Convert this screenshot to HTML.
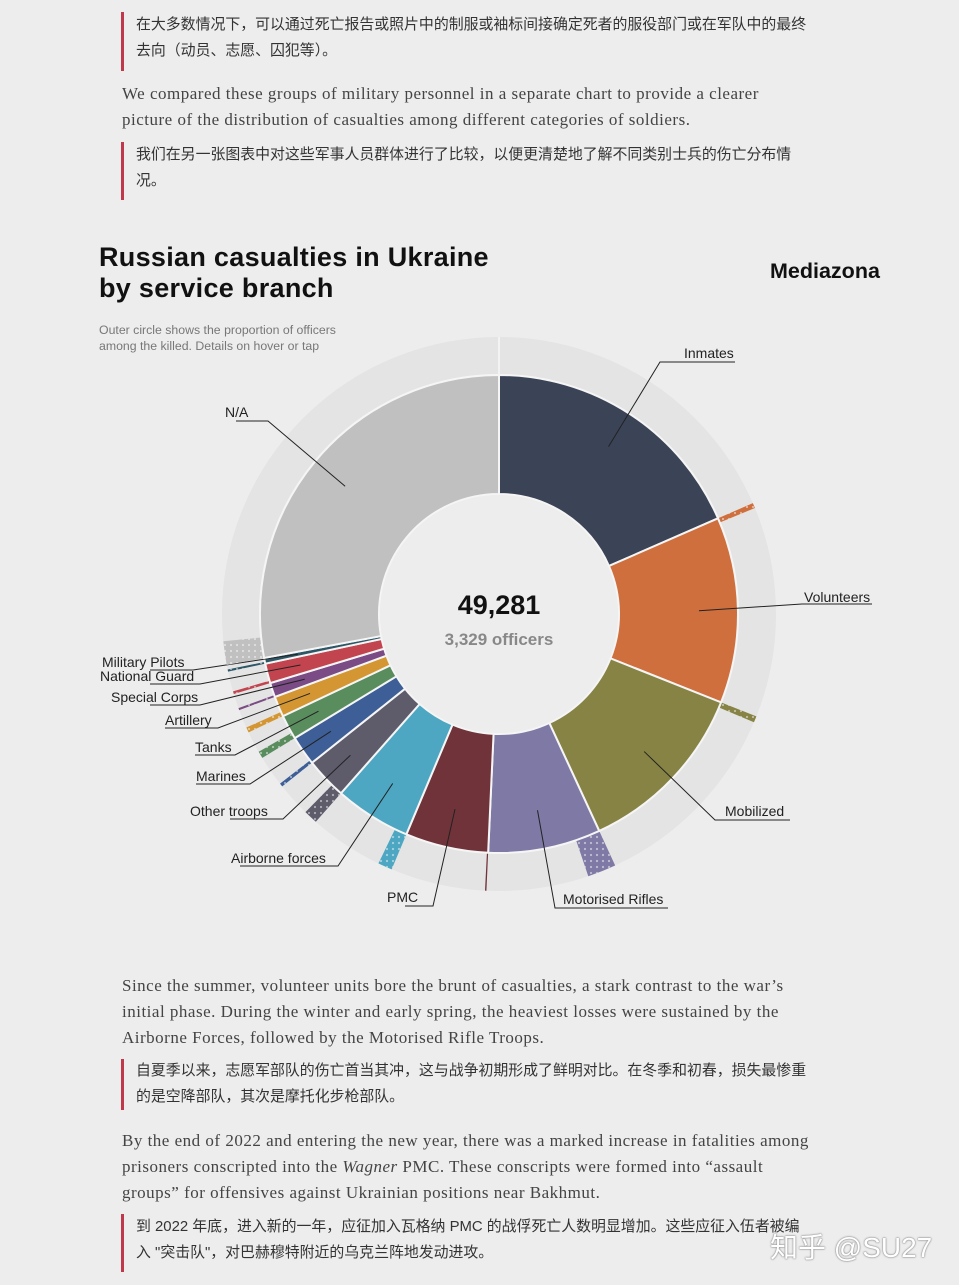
<!DOCTYPE html>
<html><head><meta charset="utf-8">
<style>
html,body{margin:0;padding:0;}
body{width:959px;height:1285px;background:#ededed;position:relative;overflow:hidden;font-family:"Liberation Serif","Noto Serif CJK SC",serif;}
.bq{position:absolute;left:121px;border-left:3px solid #c0394b;padding-left:12px;font-family:"Liberation Sans","Noto Sans CJK SC",sans-serif;font-size:14.9px;line-height:25.5px;color:#333;width:700px;white-space:nowrap;}
.p{position:absolute;left:122px;font-size:17px;line-height:26px;color:#444;width:720px;white-space:nowrap;letter-spacing:0.5px;}
.abs{position:absolute;}
</style></head>
<body>
<div class="bq" style="top:12px;height:58px;padding-top:1px">在大多数情况下，可以通过死亡报告或照片中的制服或袖标间接确定死者的服役部门或在军队中的最终<br>去向（动员、志愿、囚犯等）。</div>
<div class="p" style="top:81px">We compared these groups of military personnel in a separate chart to provide a clearer<br>picture of the distribution of casualties among different categories of soldiers.</div>
<div class="bq" style="top:142px;height:57px;padding-top:1px;">我们在另一张图表中对这些军事人员群体进行了比较，以便更清楚地了解不同类别士兵的伤亡分布情<br>况。</div>

<div class="abs" style="left:99px;top:242px;font-family:'Liberation Sans',sans-serif;font-weight:bold;font-size:27px;letter-spacing:0.3px;line-height:31px;color:#111;">Russian casualties in Ukraine<br>by service branch</div>
<div class="abs" style="left:770px;top:259px;font-family:'Liberation Sans',sans-serif;font-weight:bold;font-size:21.5px;color:#111;">Mediazona</div>
<div class="abs" style="left:99px;top:322px;font-family:'Liberation Sans',sans-serif;font-size:12.3px;line-height:16px;color:#777;">Outer circle shows the proportion of officers<br>among the killed. Details on hover or tap</div>

<svg id="chart" class="abs" style="left:0;top:0" width="959" height="960" font-family="Liberation Sans, sans-serif"></svg>

<div class="p" style="top:973px">Since the summer, volunteer units bore the brunt of casualties, a stark contrast to the war’s<br>initial phase. During the winter and early spring, the heaviest losses were sustained by the<br>Airborne Forces, followed by the Motorised Rifle Troops.</div>
<div class="bq" style="top:1059px;height:51px;">自夏季以来，志愿军部队的伤亡首当其冲，这与战争初期形成了鲜明对比。在冬季和初春，损失最惨重<br>的是空降部队，其次是摩托化步枪部队。</div>
<div class="p" style="top:1128px">By the end of 2022 and entering the new year, there was a marked increase in fatalities among<br>prisoners conscripted into the <i>Wagner</i> PMC. These conscripts were formed into “assault<br>groups” for offensives against Ukrainian positions near Bakhmut.</div>
<div class="bq" style="top:1214px;height:57px;padding-top:1px">到 2022 年底，进入新的一年，应征加入瓦格纳 PMC 的战俘死亡人数明显增加。这些应征入伍者被编<br>入 "突击队"，对巴赫穆特附近的乌克兰阵地发动进攻。</div>
<div class="abs" style="left:770px;top:1226px;font-family:'Liberation Sans','Noto Sans CJK SC',sans-serif;font-size:28px;color:#fff;text-shadow:0 0 2px #888,0 0 1px #666;">知乎 @SU27</div>

<script>
const categories=["Inmates","Volunteers","Mobilized","Motorised Rifles","PMC","Airborne forces","Other troops","Marines","Tanks","Artillery","Special Corps","National Guard","Military Pilots","N/A"];
const totals=[9090,6201,5955,3751,2765,2546,1383,986,821,684,479,657,192,13771];
const officers=[0,150,180,820,40,410,400,100,200,150,60,80,60,679];
const colors=["#3b4357","#cf6f3e","#868345","#7f79a6","#70333a","#4ea7c2","#5e5c6b","#3d5e96","#5a8d5e","#d39633","#7a4b84","#c2444f","#2d5767","#c0c0c0"];
const labelPos=[[684,353,'a'],[804,597,'a'],[725,811,'a'],[563,899,'a'],[387,897,'a'],[231,858,'a'],[190,811,'a'],[196,776,'a'],[195,747,'a'],[165,720,'a'],[111,697,'a'],[100,676,'a'],[102,662,'a'],[225,412,'a']];
const underline=[[660,735,362,0],[802,872,604,0],[715,790,820,0],[555,668,908,0],[405,433,906,1],[240,338,866,1],[230,283,819,1],[196,250,784,1],[195,235,755,1],[165,218,728,1],[150,200,705,1],[150,200,684,1],[150,193,670,1],[236,268,421,1]];

const svg=document.getElementById('chart');
const NS='http://www.w3.org/2000/svg';
const cx=499,cy=614,rIn=120,rOut=239,r2a=240,r2b=277;
const total=totals.reduce((a,b)=>a+b,0);
function ang(v){return v/total*Math.PI*2;}
function pt(a,r){return [cx+r*Math.sin(a),cy-r*Math.cos(a)];}
function arc(a0,a1,r0,r1){
  const [x0,y0]=pt(a0,r1),[x1,y1]=pt(a1,r1),[x2,y2]=pt(a1,r0),[x3,y3]=pt(a0,r0);
  const lg=(a1-a0)>Math.PI?1:0;
  return `M${x0},${y0}A${r1},${r1} 0 ${lg} 1 ${x1},${y1}L${x2},${y2}A${r0},${r0} 0 ${lg} 0 ${x3},${y3}Z`;
}
function mk(tag,attrs){const e=document.createElementNS(NS,tag);for(const k in attrs)e.setAttribute(k,attrs[k]);svg.appendChild(e);return e;}
const defs=document.createElementNS(NS,'defs');
defs.innerHTML='<pattern id="stars" width="6" height="6" patternUnits="userSpaceOnUse"><circle cx="3" cy="3" r="1.1" fill="#fff" fill-opacity="0.5"/></pattern>';
svg.appendChild(defs);
const ring=mk('circle',{cx:cx,cy:cy,r:(r2a+r2b)/2,fill:'none',stroke:'#e4e4e4','stroke-width':r2b-r2a});


const vline=mk('line',{x1:cx,y1:cy-r2b,x2:cx,y2:cy-rOut,stroke:'#f8f8f8','stroke-width':1.5});


let acc=0;
categories.forEach((c,i)=>{
  const a0=ang(acc),a1=ang(acc+totals[i]);acc+=totals[i];
  const s=mk('path',{d:arc(a0,a1,rIn,rOut),fill:colors[i],stroke:'#f5f5f5','stroke-width':2});
  
  
  if(officers[i]>0){
    const b=a0+ang(officers[i]);
    const o=mk('path',{d:arc(a0,b,r2a,r2b),fill:colors[i]});
    
    
    const o2=mk('path',{d:arc(a0,b,r2a,r2b),fill:'url(#stars)'});
    
    
  }
  const m=(a0+a1)/2;
  const [px,py]=pt(m,i>=6&&i<=12?205:200);
  const u=underline[i];
  const ex=u[3]?u[1]:u[0];
  const ld=mk('polyline',{points:`${px},${py} ${ex},${u[2]} ${u[3]?u[0]:u[1]},${u[2]}`,fill:'none',stroke:'#222','stroke-width':1});
  
  
  const t=mk('text',{x:labelPos[i][0],y:labelPos[i][1]+5,'font-size':14,fill:'#222'});
  t.textContent=c;
  
  
});
const hole=mk('circle',{cx:cx,cy:cy,r:rIn-1,fill:'#ededed'});


const tt=mk('text',{x:cx,y:614,'text-anchor':'middle','font-size':27,'font-weight':'bold',fill:'#111'});
tt.textContent=total.toLocaleString('en-US');


const to=mk('text',{x:cx,y:645,'text-anchor':'middle','font-size':17,'font-weight':'bold',fill:'#888'});
to.textContent=officers.reduce((a,b)=>a+b,0).toLocaleString('en-US')+' officers';


</script>
</body></html>
